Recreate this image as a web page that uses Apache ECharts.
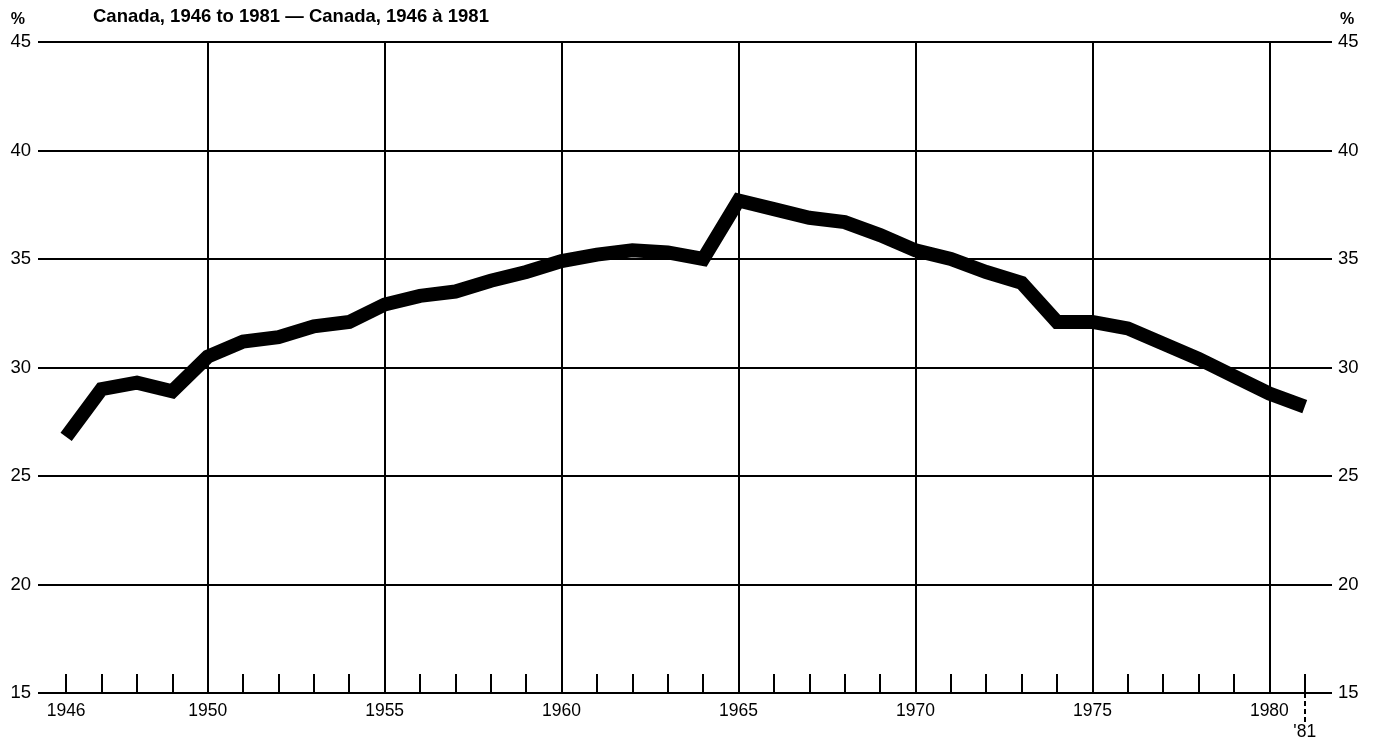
<!DOCTYPE html>
<html>
<head>
<meta charset="utf-8">
<script src="https://cdn.jsdelivr.net/npm/echarts@6/dist/echarts.min.js"></script>
<style>
html,body{margin:0;padding:0;background:#fff;}
#chart{width:1377px;height:747px;}
</style>
</head>
<body>
<div id="chart"></div>
<script>
// ---- data ----
const years = [1946,1947,1948,1949,1950,1951,1952,1953,1954,1955,1956,1957,1958,1959,1960,1961,1962,1963,1964,1965,1966,1967,1968,1969,1970,1971,1972,1973,1974,1975,1976,1977,1978,1979,1980,1981];
const values = [26.8,29.0,29.3,28.9,30.5,31.2,31.4,31.9,32.1,32.9,33.3,33.5,34.0,34.4,34.9,35.2,35.4,35.3,35.0,37.7,37.3,36.9,36.7,36.1,35.4,35.0,34.4,33.9,32.1,32.1,31.8,31.1,30.4,29.6,28.8,28.2];
const xLabelYears = [1946,1950,1955,1960,1965,1970,1975,1980];
const gridYears = [1950,1955,1960,1965,1970,1975,1980];
const endYears = [1981];
const endLabels = ["'81"];
const yTicks = [15,20,25,30,35,40,45];
const titleText = 'Canada, 1946 to 1981 — Canada, 1946 à 1981';
const unitLabel = '%';

const font = "'Liberation Sans', Arial, Helvetica, sans-serif";
const chart = echarts.init(document.getElementById('chart'), null, {renderer:'canvas'});

const xMin = 1945.205, xMax = 1981.77;

const option = {
  animation: false,
  backgroundColor: '#fff',
  title: {
    text: titleText,
    left: 88, top: 2,
    textStyle: {fontFamily: font, fontSize: 18.5, fontWeight: 'bold', color: '#000'}
  },
  grid: {left: 38, right: 45, top: 42, bottom: 54, containLabel: false},
  xAxis: [
    {
      type: 'value', min: xMin, max: xMax, position: 'bottom',
      axisLine: {show: false},
      splitLine: {show: false},
      axisTick: {show: true, inside: true, length: 19, customValues: years,
                 lineStyle: {color: '#000', width: 2}},
      axisLabel: {show: true, customValues: xLabelYears, margin: 9,
                  fontFamily: font, fontSize: 17.5, color: '#000',
                  formatter: v => String(Math.round(v))}
    },
    {
      type: 'value', min: xMin, max: xMax, position: 'bottom',
      axisLine: {show: false},
      splitLine: {show: false},
      axisTick: {show: true, inside: false, length: 31, customValues: endYears,
                 lineStyle: {color: '#000', width: 2, type: [5,3]}},
      axisLabel: {show: true, customValues: endYears, margin: 30,
                  fontFamily: font, fontSize: 17.5, color: '#000',
                  formatter: v => endLabels[endYears.indexOf(Math.round(v))] || ''}
    }
  ],
  yAxis: [
    {
      type: 'value', min: yTicks[0], max: yTicks[yTicks.length-1], interval: 5, position: 'left',
      name: unitLabel, nameLocation: 'end', nameGap: 14,
      nameTextStyle: {fontFamily: font, fontSize: 16, fontWeight: 'bold', color: '#000', align: 'right', padding: [0,13,0,0]},
      axisLine: {show: false}, axisTick: {show: false},
      splitLine: {show: true, lineStyle: {color: '#000', width: 2}},
      axisLabel: {margin: 7, fontFamily: font, fontSize: 18.5, color: '#000'}
    },
    {
      type: 'value', min: yTicks[0], max: yTicks[yTicks.length-1], interval: 5, position: 'right',
      name: unitLabel, nameLocation: 'end', nameGap: 14,
      nameTextStyle: {fontFamily: font, fontSize: 16, fontWeight: 'bold', color: '#000', align: 'left', padding: [0,0,0,8]},
      axisLine: {show: false}, axisTick: {show: false},
      splitLine: {show: false},
      axisLabel: {margin: 6, fontFamily: font, fontSize: 18.5, color: '#000'}
    }
  ],
  series: [
    {
      type: 'line',
      xAxisIndex: 0, yAxisIndex: 0,
      data: years.map((y, i) => [y, values[i]]),
      symbol: 'none',
      lineStyle: {color: '#000', width: 14, cap: 'butt', join: 'miter'},
      markLine: {
        silent: true,
        symbol: ['none', 'none'],
        label: {show: false},
        lineStyle: {color: '#000', width: 2, type: 'solid'},
        data: gridYears.map(y => ({xAxis: y}))
      }
    }
  ]
};
chart.setOption(option);
</script>
</body>
</html>
